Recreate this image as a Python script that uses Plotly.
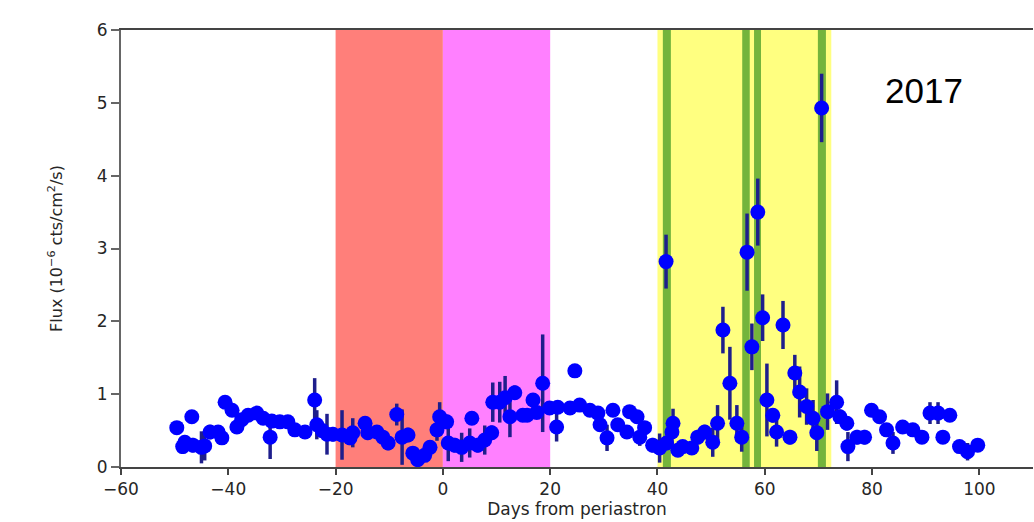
import plotly.graph_objects as go

days = [-49.6, -48.5, -48.1, -46.8, -46.6, -45.0, -44.4, -43.4, -41.9, -41.2,
        -40.6, -39.3, -38.4, -37.5, -36.3, -34.7, -33.5, -32.2, -31.9, -30.4,
        -28.9, -27.6, -25.7, -23.9, -23.5, -22.5, -21.6, -20.5, -18.8, -17.3,
        -16.8, -14.5, -14.0, -12.3, -11.2, -10.2, -8.6, -7.6, -6.5, -5.6,
        -4.7, -3.4, -2.4, -1.1, -0.6, 0.7, 1.0, 2.2, 3.5, 5.0,
        5.4, 6.5, 7.8, 9.1, 9.3, 10.6, 11.6, 12.5, 13.4, 14.9,
        15.7, 16.8, 17.5, 18.6, 19.9, 21.2, 21.4, 23.7, 24.6, 25.5,
        27.4, 28.9, 29.3, 30.6, 31.7, 32.6, 34.3, 34.8, 36.2, 36.7,
        37.6, 39.1, 40.4, 41.6, 41.7, 42.7, 42.9, 43.8, 44.7, 46.4,
        47.5, 48.8, 50.3, 51.2, 52.2, 53.5, 54.8, 55.7, 56.7, 57.6,
        58.7, 59.6, 60.4, 61.5, 62.2, 63.4, 64.7, 65.6, 66.5, 67.8,
        69.0, 69.7, 70.6, 71.7, 73.4, 74.0, 75.3, 75.5, 77.2, 78.6,
        79.9, 81.4, 82.7, 83.9, 85.7, 87.6, 89.3, 90.8, 92.3, 93.2,
        94.5, 96.3, 97.8, 99.7]

flux = [0.54, 0.28, 0.34, 0.69, 0.30, 0.27, 0.29, 0.48, 0.48, 0.40,
        0.89, 0.78, 0.55, 0.65, 0.71, 0.74, 0.67, 0.41, 0.63, 0.62,
        0.62, 0.51, 0.48, 0.92, 0.58, 0.50, 0.45, 0.45, 0.44, 0.40,
        0.47, 0.60, 0.47, 0.48, 0.41, 0.33, 0.72, 0.41, 0.44, 0.19,
        0.10, 0.16, 0.27, 0.51, 0.69, 0.62, 0.33, 0.30, 0.27, 0.33,
        0.67, 0.30, 0.37, 0.47, 0.89, 0.89, 0.95, 0.69, 1.02, 0.71,
        0.71, 0.92, 0.75, 1.15, 0.81, 0.55, 0.82, 0.81, 1.32, 0.85,
        0.78, 0.74, 0.58, 0.40, 0.78, 0.58, 0.48, 0.76, 0.69, 0.41,
        0.54, 0.30, 0.26, 2.82, 0.33, 0.48, 0.60, 0.23, 0.28, 0.26,
        0.41, 0.48, 0.34, 0.60, 1.88, 1.15, 0.60, 0.41, 2.95, 1.65,
        3.50, 2.05, 0.92, 0.71, 0.48, 1.95, 0.41, 1.29, 1.03, 0.83,
        0.67, 0.47, 4.93, 0.76, 0.89, 0.69, 0.60, 0.28, 0.41, 0.41,
        0.78, 0.69, 0.51, 0.33, 0.55, 0.51, 0.41, 0.74, 0.74, 0.41,
        0.71, 0.28, 0.21, 0.30]

flux_err = [0.08, 0.10, 0.10, 0.08, 0.10, 0.22, 0.20, 0.10, 0.08, 0.08,
            0.06, 0.08, 0.08, 0.08, 0.06, 0.06, 0.08, 0.30, 0.08, 0.08,
            0.08, 0.08, 0.08, 0.30, 0.20, 0.10, 0.28, 0.10, 0.34, 0.10,
            0.20, 0.10, 0.10, 0.08, 0.10, 0.10, 0.15, 0.38, 0.10, 0.06,
            0.06, 0.06, 0.10, 0.15, 0.20, 0.10, 0.25, 0.10, 0.20, 0.20,
            0.08, 0.10, 0.20, 0.10, 0.27, 0.28, 0.30, 0.28, 0.10, 0.08,
            0.08, 0.08, 0.08, 0.67, 0.08, 0.20, 0.08, 0.08, 0.05, 0.06,
            0.06, 0.06, 0.08, 0.18, 0.06, 0.08, 0.08, 0.06, 0.08, 0.12,
            0.08, 0.10, 0.20, 0.37, 0.10, 0.20, 0.20, 0.08, 0.08, 0.08,
            0.10, 0.10, 0.20, 0.25, 0.32, 0.50, 0.25, 0.20, 0.53, 0.32,
            0.46, 0.32, 0.50, 0.10, 0.20, 0.33, 0.10, 0.25, 0.35, 0.25,
            0.25, 0.25, 0.47, 0.25, 0.30, 0.10, 0.10, 0.20, 0.10, 0.10,
            0.08, 0.08, 0.08, 0.15, 0.08, 0.08, 0.08, 0.15, 0.15, 0.06,
            0.06, 0.06, 0.12, 0.06]

# shaded intervals (days)
red_band = (-20, 0)
magenta_band = (0, 20)
yellow_band = (40, 72.4)
green_bands = [(41.0, 42.5), (55.8, 57.2), (58.0, 59.3), (69.9, 71.4)]

x_ticks = [-60, -40, -20, 0, 20, 40, 60, 80, 100]
y_ticks = [0, 1, 2, 3, 4, 5, 6]

fig = go.Figure()

shapes = []
shapes.append(dict(type="rect", xref="x", yref="paper", x0=red_band[0], x1=red_band[1],
                   y0=0, y1=1, fillcolor="#ff7f7a", line_width=0, layer="below"))
shapes.append(dict(type="rect", xref="x", yref="paper", x0=magenta_band[0], x1=magenta_band[1],
                   y0=0, y1=1, fillcolor="#ff80ff", line_width=0, layer="below"))
shapes.append(dict(type="rect", xref="x", yref="paper", x0=yellow_band[0], x1=yellow_band[1],
                   y0=0, y1=1, fillcolor="#ffff80", line_width=0, layer="below"))
for g0, g1 in green_bands:
    shapes.append(dict(type="rect", xref="x", yref="paper", x0=g0, x1=g1,
                       y0=0, y1=1, fillcolor="#74b43c", line_width=0, layer="below"))

fig.add_trace(go.Scatter(
    x=days, y=flux, mode="markers",
    marker=dict(color="#0000ff", size=15, line=dict(width=0)),
    error_y=dict(type="data", array=flux_err, visible=True,
                 color="#1e1e8c", thickness=3.5, width=0),
    showlegend=False,
))

fig.update_layout(
    width=1034, height=522,
    margin=dict(l=121, r=1, t=30, b=55),
    plot_bgcolor="white", paper_bgcolor="white",
    shapes=shapes,
    font=dict(family="DejaVu Sans", color="#262626"),
    annotations=[dict(text="2017", x=0.881, y=0.862, xref="paper", yref="paper",
                      xanchor="center", yanchor="middle",
                      showarrow=False, font=dict(family="Liberation Sans", size=35, color="black"))],
)

fig.update_xaxes(
    range=[-60, 110], tickvals=x_ticks,
    ticktext=[("\u2212" + str(abs(v))) if v < 0 else str(v) for v in x_ticks],
    showline=True, linecolor="#444444", linewidth=2, mirror=True,
    ticks="outside", ticklen=6, tickwidth=1.5, tickcolor="#444444",
    showgrid=False, zeroline=False,
    tickfont=dict(size=17),
    title=dict(text="Days from periastron", font=dict(size=17), standoff=4),
)
fig.update_yaxes(
    range=[0, 6], tickvals=y_ticks,
    showline=True, linecolor="#666666", linewidth=2,
    ticks="outside", ticklen=8, tickwidth=1.5, tickcolor="#666666",
    showgrid=False, zeroline=False,
    tickfont=dict(size=17),
    title=dict(text="Flux (10<sup>\u22126</sup> cts/cm<sup>2</sup>/s)", font=dict(size=16), standoff=30),
)

fig.write_html("out.html")
